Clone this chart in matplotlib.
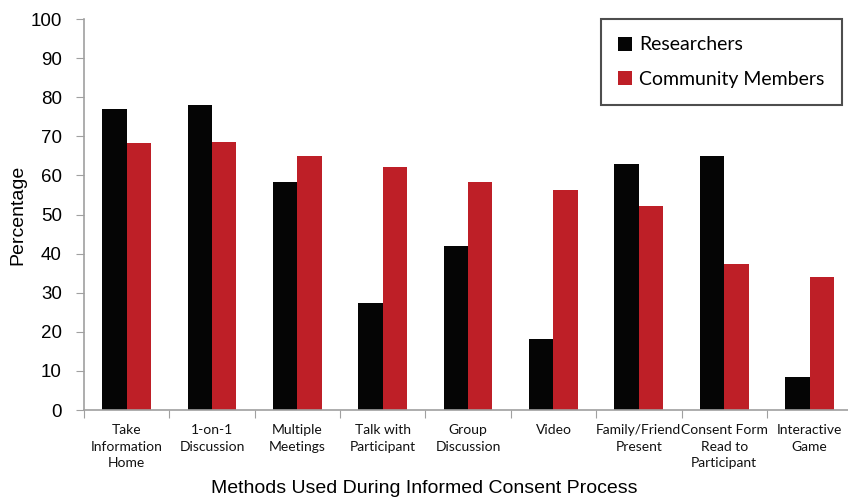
import numpy as np
import matplotlib
matplotlib.use("Agg")
import matplotlib.pyplot as plt

# Percent of each group endorsing each informed consent method
methods = [
    "Take\nInformation\nHome", "1-on-1\nDiscussion", "Multiple\nMeetings",
    "Talk with\nParticipant", "Group\nDiscussion", "Video",
    "Family/Friend\nPresent", "Consent Form\nRead to\nParticipant",
    "Interactive\nGame",
]
researchers = [77.0, 78.0, 58.3, 27.3, 42.0, 18.2, 62.9, 65.0, 8.5]
community = [68.2, 68.5, 65.0, 62.2, 58.3, 56.2, 52.3, 37.3, 34.1]

black = "#050505"
red = "#BE1F27"
grey = "#A0A0A0"

fig = plt.figure(figsize=(8.48, 4.98), dpi=100)
ax = fig.add_axes([0.099, 0.1767, 0.906, 0.785])

x = np.arange(len(methods))
w = 0.285
ax.bar(x - w / 2, researchers, w, color=black, label="Researchers")
ax.bar(x + w / 2, community, w, color=red, label="Community Members")

ax.set_xlim(-0.5, len(methods) - 0.5)
ax.set_ylim(0, 100)
ax.set_yticks(np.arange(0, 101, 10))
ax.tick_params(axis="y", labelsize=13.5, length=6, color=grey, pad=10)
for lab in ax.get_yticklabels():
    lab.set_family("Liberation Sans")

# category labels sit between the boundary ticks
ax.set_xticks(np.arange(-0.5, len(methods), 1))
ax.set_xticklabels([])
ax.tick_params(axis="x", length=6, color=grey)
for i, m in enumerate(methods):
    ax.text(i, -3.6, m, ha="center", va="top", fontsize=10, family="Lato",
            linespacing=1.45, color="#111111")

for s in ["top", "right"]:
    ax.spines[s].set_visible(False)
for s in ["left", "bottom"]:
    ax.spines[s].set_color(grey)
    ax.spines[s].set_linewidth(1.2)

ax.set_ylabel("Percentage", fontsize=14, family="Liberation Sans", labelpad=3)
fig.text(0.5, 0.003, "Methods Used During Informed Consent Process",
         ha="center", va="bottom", fontsize=14, family="Liberation Sans")

leg = fig.legend(loc="upper right", bbox_to_anchor=(0.993, 0.962),
                 prop={"family": "Lato", "size": 14}, frameon=True,
                 fancybox=False, edgecolor="#222222", handlelength=0.72,
                 handleheight=0.72, handletextpad=0.35, labelspacing=0.9,
                 borderpad=0.9, borderaxespad=0)
leg.get_frame().set_linewidth(1.5)

fig.savefig("out.png", dpi=100)
